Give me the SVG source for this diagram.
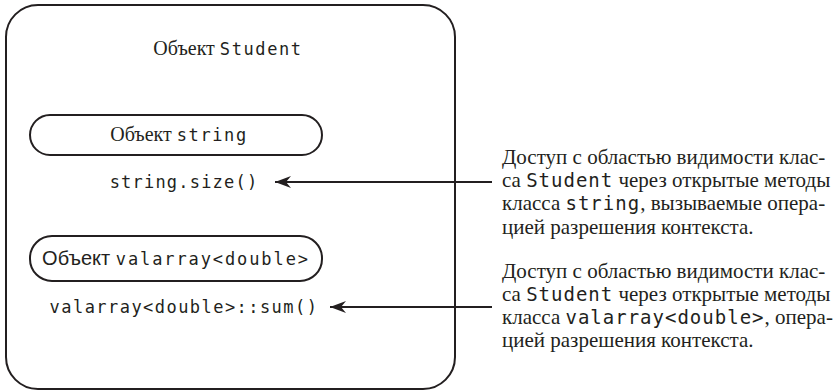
<svg xmlns="http://www.w3.org/2000/svg" width="840" height="391" viewBox="0 0 840 391">
<style>
.ser{font-family:"Liberation Serif","Times New Roman",serif;fill:#231f20}
.san{font-family:"Liberation Sans",Arial,sans-serif;fill:#231f20}
.mono{font-family:"DejaVu Sans Mono",monospace;fill:#231f20}
.box{fill:none;stroke:#231f20;stroke-width:2}
.conn{stroke:#231f20;stroke-width:2;fill:none}
</style>
<defs>
<marker id="ah" markerUnits="userSpaceOnUse" markerWidth="20" markerHeight="14" refX="17" refY="7" orient="auto">
<path d="M17,7 L1,1 L6,7 L1,13 Z" fill="#231f20"/>
</marker>
</defs>
<g id="student">
<rect class="box" x="6" y="5" width="449" height="384" rx="32" ry="32"/>
<text x="228" y="55" text-anchor="middle"><tspan class="ser" font-size="20">Объект </tspan><tspan class="mono" font-size="17" letter-spacing="1.6">Student</tspan></text>
</g>
<g id="string-obj">
<rect class="box" x="30" y="115" width="292" height="40" rx="20" ry="20"/>
<text x="179" y="141" text-anchor="middle"><tspan class="ser" font-size="20">Объект </tspan><tspan class="mono" font-size="17" letter-spacing="1.6">string</tspan></text>
<text class="mono" x="184" y="188" font-size="17" letter-spacing="1.2" text-anchor="middle">string.size()</text>
</g>
<g id="valarray-obj">
<rect class="box" x="30" y="236" width="292" height="45" rx="22" ry="22"/>
<text x="176" y="265" text-anchor="middle"><tspan class="san" font-size="20">Объект </tspan><tspan class="mono" font-size="17" letter-spacing="1.9">valarray&lt;double&gt;</tspan></text>
<text class="mono" x="184" y="313" font-size="17" letter-spacing="1.45" text-anchor="middle">valarray&lt;double&gt;::sum()</text>
</g>
<g id="note1" class="ser" font-size="21">
<text x="502" y="164">Доступ с областью видимости клас-</text>
<text x="502" y="187">са <tspan class="mono" font-size="19" letter-spacing="1">Student</tspan> через открытые методы</text>
<text x="502" y="210">класса <tspan class="mono" font-size="19" letter-spacing="1">string</tspan>, вызываемые опера-</text>
<text x="502" y="234">цией разрешения контекста.</text>
</g>
<g id="note2" class="ser" font-size="21">
<text x="502" y="278">Доступ с областью видимости клас-</text>
<text x="502" y="301">са <tspan class="mono" font-size="19" letter-spacing="1">Student</tspan> через открытые методы</text>
<text x="502" y="324">класса <tspan class="mono" font-size="19" letter-spacing="1">valarray&lt;double&gt;</tspan>, опера-</text>
<text x="502" y="347">цией разрешения контекста.</text>
</g>
<g id="connectors">
<line class="conn" x1="492" y1="182" x2="275" y2="182" marker-end="url(#ah)"/>
<line class="conn" x1="492" y1="307" x2="330" y2="307" marker-end="url(#ah)"/>
</g>
</svg>
